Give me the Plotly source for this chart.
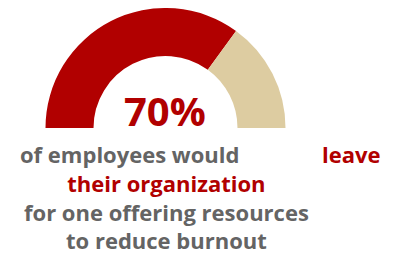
import plotly.graph_objects as go

# Data
labels = ["Would leave", "Would stay", ""]
values = [70, 30, 100]
colors = ["#B10000", "#DDCCA1", "rgba(0,0,0,0)"]
big_label = "70%"
line1_left = "of employees would"
line1_right = "leave"
line2 = "their organization"
line3 = "for one offering resources"
line4 = "to reduce burnout"

# the page body has an 8px margin, so the figure is offset by 8px
OFF = 8
W, H = 396 - OFF, 256 - OFF
cx, cy, R = 165.5 - OFF, 128 - OFF, 120

fig = go.Figure()
fig.add_trace(go.Pie(
    labels=labels, values=values, hole=0.6, sort=False,
    direction="clockwise", rotation=-90,
    marker=dict(colors=colors, line=dict(width=0)),
    textinfo="none", hoverinfo="skip", showlegend=False,
    domain=dict(x=[(cx - R) / W, (cx + R) / W], y=[1 - (cy + R) / H, 1 - (cy - R) / H]),
))

def px(x):
    return (x - OFF) / W

def py(y):
    return 1 - (y - OFF) / H

red = "#B10000"
gray = "#646464"
fam = "Open Sans"
fs = 22
block = "<b><span style='color:%s'>%s</span><br>%s<br>%s</b>" % (red, line2, line3, line4)
anns = [
    dict(text="<b>%s</b>" % big_label, x=px(165), y=py(111), xanchor="center", yanchor="middle",
         font=dict(size=40, color=red, family=fam)),
    dict(text="<b>%s</b>" % line1_left, x=px(19), y=py(153.5), xanchor="left", yanchor="middle",
         font=dict(size=fs, color=gray, family=fam)),
    dict(text="<b>%s</b>" % line1_right, x=px(382), y=py(153.5), xanchor="right", yanchor="middle",
         font=dict(size=fs, color=red, family=fam)),
    dict(text=block, x=px(166), y=0, xanchor="center", yanchor="bottom", align="center",
         font=dict(size=fs, color=gray, family=fam)),
]
for a in anns:
    a.update(xref="paper", yref="paper", showarrow=False, borderpad=0)

fig.update_layout(
    width=W, height=H, margin=dict(l=0, r=0, t=0, b=0),
    paper_bgcolor="white", plot_bgcolor="white",
    annotations=anns,
)
fig.write_html("out.html")
